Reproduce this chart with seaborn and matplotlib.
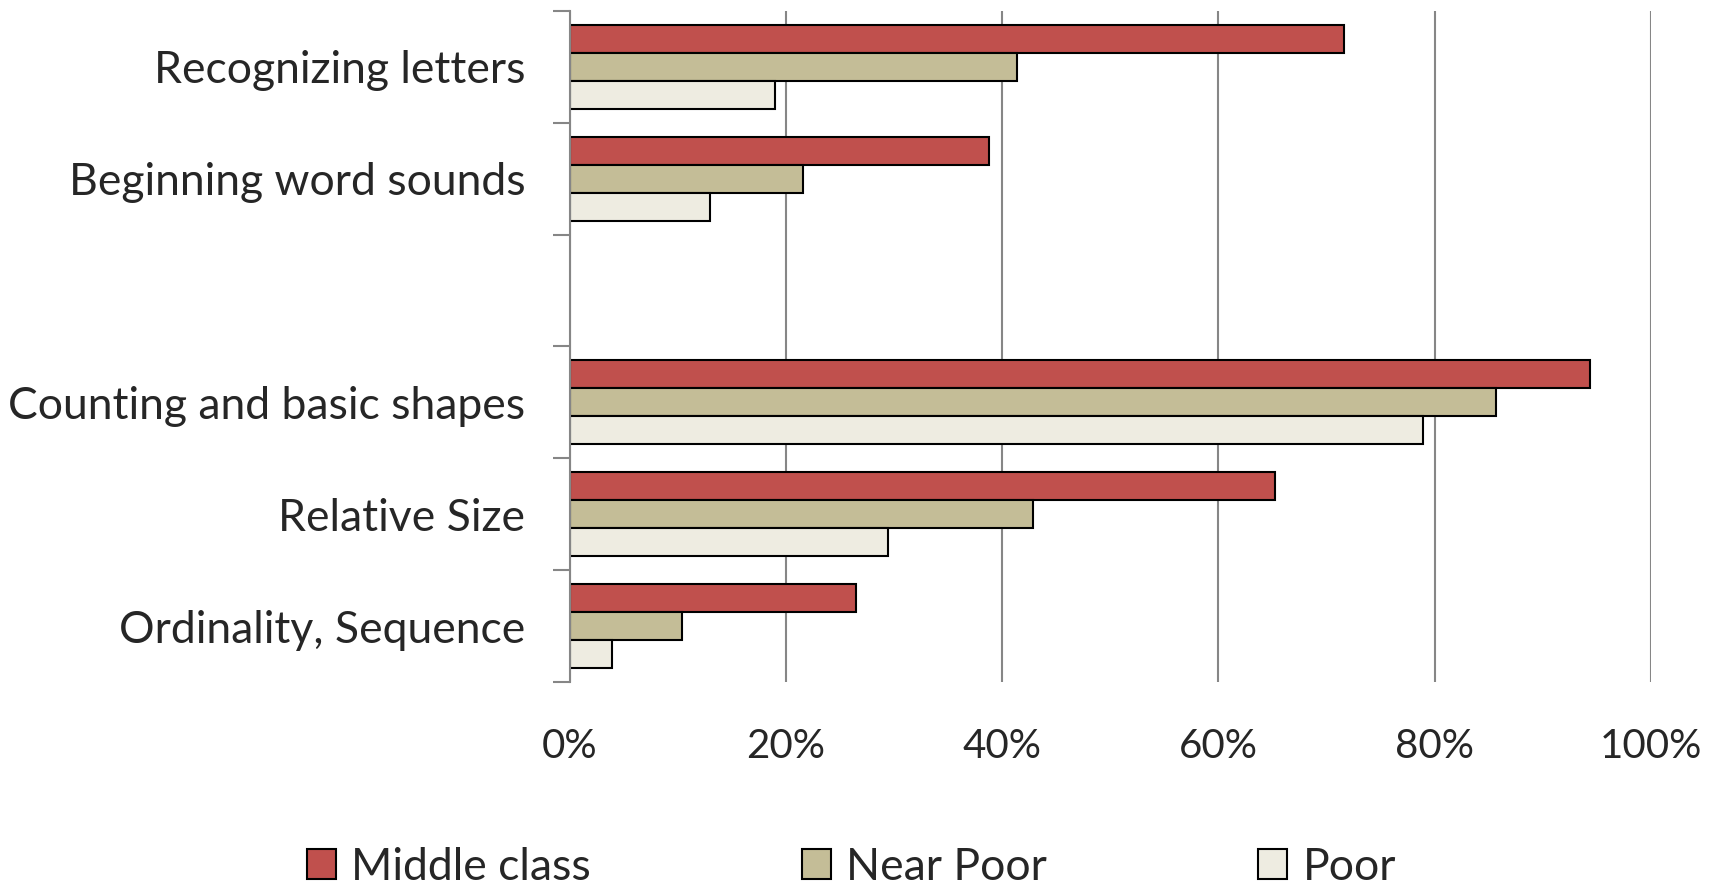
import pandas as pd
import numpy as np
import seaborn as sns
import matplotlib.pyplot as plt
from matplotlib.ticker import FixedLocator, PercentFormatter

skills = ['Recognizing letters', 'Beginning word sounds', ' ',
          'Counting and basic shapes', 'Relative Size', 'Ordinality, Sequence']
groups = ['Middle class', 'Near Poor', 'Poor']

middle_class = [71.6, 38.8, np.nan, 94.4, 65.2, 26.5]
near_poor = [41.4, 21.6, np.nan, 85.7, 42.8, 10.4]
poor = [19.0, 13.0, np.nan, 78.9, 29.4, 3.9]

colors = ['#C0504D', '#C4BD97', '#EEECE1']

df = pd.DataFrame({'skill': skills * 3,
                   'group': np.repeat(groups, len(skills)),
                   'pct': middle_class + near_poor + poor})
df = df.dropna()

sns.set_style('white')
plt.rcParams['font.family'] = ['Lato', 'DejaVu Sans']

fig = plt.figure(figsize=(17.25, 8.85), dpi=100)
ax = fig.add_axes([0.3304, 0.2294, 0.6266, 0.7582])

sns.barplot(data=df, y='skill', x='pct', hue='group', order=skills, hue_order=groups,
            palette=colors, saturation=1, orient='h', width=0.75, edgecolor='black',
            linewidth=1.5, ax=ax, legend=True)

ax.set_xlim(0, 100)
ax.set_ylim(len(skills) - 0.5, -0.5)
ax.set_xlabel('')
ax.set_ylabel('')
ax.xaxis.set_major_locator(FixedLocator([0, 20, 40, 60, 80, 100]))
ax.xaxis.set_major_formatter(PercentFormatter(decimals=0))
ax.grid(axis='x', color='#868686', linewidth=1.5)
ax.set_axisbelow(True)
for side in ['top', 'right', 'bottom']:
    ax.spines[side].set_visible(False)
ax.spines['left'].set_color('#868686')
ax.spines['left'].set_linewidth(1.5)

ax.tick_params(axis='x', length=0, pad=33, labelsize=29)
ax.tick_params(axis='y', which='major', length=0, pad=32, labelsize=32)
ax.yaxis.set_minor_locator(FixedLocator(np.arange(-0.5, len(skills), 1)))
ax.tick_params(axis='y', which='minor', length=12, width=1.5, color='#868686', left=True)

handles, labels = ax.get_legend_handles_labels()
ax.get_legend().remove()
fig.legend(handles, labels, loc='center', bbox_to_anchor=(0.4936, 0.02), ncol=3,
           frameon=False, fontsize=32, handlelength=0.65, handleheight=0.65,
           handletextpad=0.35, columnspacing=4.75)

fig.savefig('out.png', dpi=100)
